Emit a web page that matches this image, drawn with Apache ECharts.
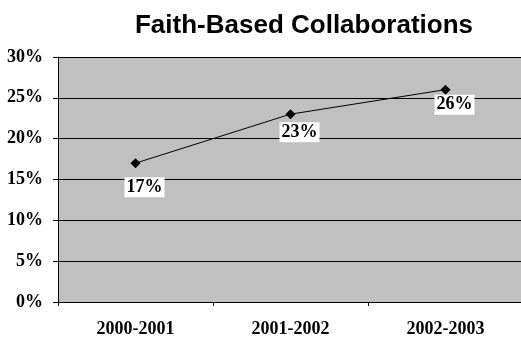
<!DOCTYPE html>
<html>
<head>
<meta charset="utf-8">
<script src="https://cdn.jsdelivr.net/npm/echarts@6/dist/echarts.min.js"></script>
<style>
  html, body { margin: 0; padding: 0; background: #fff; }
  #chart { width: 521px; height: 338px; }
</style>
</head>
<body>
<div id="chart"></div>
<script>
// School years and share of programs with faith-based collaborations
const years = ['2000-2001', '2001-2002', '2002-2003'];
const shares = [17, 23, 26];
const yTicks = [0, 5, 10, 15, 20, 25, 30];

// Label nudges (dx, dy) relative to each marker
const labelNudge = [[9, 24], [9, 18], [9, 15]];

const chart = echarts.init(document.getElementById('chart'), null, { renderer: 'canvas' });
const serif = '"Liberation Serif", "Times New Roman", serif';

chart.setOption({
  animation: false,
  backgroundColor: '#ffffff',
  title: {
    text: 'Faith-Based Collaborations',
    left: 299,
    textAlign: 'center',
    top: 8,
    textStyle: { fontFamily: '"Liberation Sans", Arial, sans-serif', fontWeight: 'bold', fontSize: 26, color: '#000' }
  },
  grid: {
    left: 58, top: 57, width: 465, height: 245,
    show: true, backgroundColor: '#c0c0c0', borderWidth: 0,
    outerBoundsMode: 'none'
  },
  xAxis: {
    type: 'category',
    data: years,
    boundaryGap: true,
    axisLine: { lineStyle: { color: '#000', width: 1 } },
    axisTick: { show: true, length: 4, lineStyle: { color: '#000' } },
    axisLabel: { fontFamily: serif, fontWeight: 'bold', fontSize: 18, color: '#000', margin: 18 }
  },
  yAxis: {
    type: 'value',
    min: yTicks[0],
    max: yTicks[yTicks.length - 1],
    interval: yTicks[1] - yTicks[0],
    axisLine: { show: true, lineStyle: { color: '#000', width: 1 } },
    axisTick: { show: true, length: 5, lineStyle: { color: '#000' } },
    splitLine: { show: true, lineStyle: { color: '#000', width: 1 } },
    axisLabel: { fontFamily: serif, fontWeight: 'bold', fontSize: 18, color: '#000', margin: 15,
      formatter: v => v + '%' }
  },
  series: [{
    type: 'line',
    data: shares.map((v, i) => ({
      value: v,
      label: { offset: labelNudge[i] }
    })),
    lineStyle: { color: '#000', width: 1 },
    itemStyle: { color: '#000' },
    symbol: 'diamond',
    symbolSize: 10,
    label: {
      show: true,
      position: 'inside',
      formatter: p => p.value + '%',
      fontFamily: serif, fontWeight: 'bold', fontSize: 18, color: '#000',
      backgroundColor: '#fff',
      padding: [2, 2, 0, 2]
    }
  }]
});
</script>
</body>
</html>
